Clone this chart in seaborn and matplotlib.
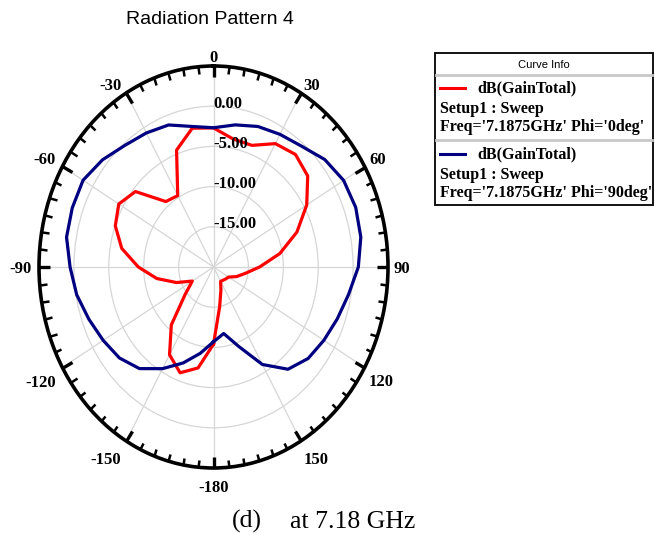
import numpy as np
import pandas as pd
import matplotlib
matplotlib.use("Agg")
import matplotlib.pyplot as plt
import seaborn as sns
from matplotlib.patches import Rectangle
from matplotlib.lines import Line2D

# ---- data: gain pattern (dB) vs. theta (deg) ----
theta_deg = [-180, -170, -160, -150, -140, -130, -120, -110, -100, -90,
             -80, -70, -60, -50, -40, -30, -20, -10, 0, 10,
             20, 30, 40, 50, 60, 70, 80, 90, 100, 110,
             120, 130, 140, 150, 160, 170, 180]

gain_phi0 = [-10.4, -7.25, -6.0, -7.4, -10.6, -14.7, -16.5, -14.35, -11.75, -9.23,
             -6.65, -5.03, -4.33, -5.4, -9.37, -9.75, -4.53, -2.47, -2.7, -3.83,
             -3.9, -2.28, -1.73, -2.38, -4.58, -7.28, -10.35, -13.4, -15.4, -16.5,
             -17.5, -17.7, -17.85, -17.95, -16.9, -14.95, -10.4]

gain_phi90 = [-10.7, -9.1, -7.3, -5.4, -3.5, -2.4, -1.75, -1.0, -0.1, 0.55,
              1.38, 1.53, 1.58, 0.75, -0.25, -0.75, -1.2, -2.25, -2.68, -2.05,
              -1.4, -0.95, -0.38, 0.8, 1.53, 1.68, 1.43, 0.75, -0.35, -1.13,
              -1.75, -2.3, -3.4, -6.0, -9.5, -11.6, -10.7]

curve_names = ["Phi=0deg", "Phi=90deg"]
curve_colors = ["#ff0000", "#000080"]
legend_title = "Curve Info"
legend_expr = ["dB(GainTotal)", "dB(GainTotal)"]
legend_setup = ["Setup1 : Sweep", "Setup1 : Sweep"]
legend_freq = ["Freq='7.1875GHz' Phi='0deg'", "Freq='7.1875GHz' Phi='90deg'"]

r_min, r_max = -20, 5
r_ticks = [-15, -10, -5, 0]
r_tick_labels = ["-15.00", "-10.00", "-5.00", "0.00"]
theta_ticks = [0, 30, 60, 90, 120, 150, 180, 210, 240, 270, 300, 330]
theta_tick_labels = ["0", "30", "60", "90", "120", "150", "-180",
                     "-150", "-120", "-90", "-60", "-30"]

title = "Radiation Pattern 4"
caption_left = "(d)"
caption_right = "at 7.18 GHz"

# ---- figure ----
W, H = 655, 533
fig = plt.figure(figsize=(W / 100, H / 100), dpi=100)
fig.patch.set_facecolor("white")

serif_bold = dict(family="Liberation Serif", weight="bold")


def px(x, y):
    """pixel position -> figure fraction"""
    return x / W, 1 - y / H


ax = fig.add_axes([39 / W, 65 / H, 349 / W, 402 / H], projection="polar")
ax.set_aspect("auto")
ax.set_theta_zero_location("N")
ax.set_theta_direction(-1)
ax.set_facecolor("white")

df = pd.concat([
    pd.DataFrame({"theta": np.deg2rad(theta_deg), "gain": gain_phi0, "curve": curve_names[0]}),
    pd.DataFrame({"theta": np.deg2rad(theta_deg), "gain": gain_phi90, "curve": curve_names[1]}),
], ignore_index=True)

sns.lineplot(data=df, x="theta", y="gain", hue="curve",
             palette=dict(zip(curve_names, curve_colors)),
             sort=False, estimator=None, legend=False, linewidth=2.3, ax=ax)
ax.set_xlabel("")
ax.set_ylabel("")

# radial axis: dB rings, labels along the 0 deg spoke
ax.set_ylim(r_min, r_max)
ax.set_yticks(r_ticks)
ax.set_yticklabels([])
for r, lab in zip(r_ticks, r_tick_labels):
    ax.text(0, r + 0.3, lab, ha="left", va="center", fontsize=12,
            zorder=5, **serif_bold)

# angular axis: major ticks every 30 deg, minor every 5 deg, on the rim, pointing inward
ax.set_xticks(np.deg2rad(theta_ticks))
ax.set_xticklabels([])
ax.set_xticks(np.deg2rad(np.arange(0, 360, 5)), minor=True)
ax.tick_params(axis="x", which="both", bottom=False, top=True)
ax.tick_params(axis="x", which="major", direction="in", length=8, width=2.4,
               color="black")
ax.tick_params(axis="x", which="minor", direction="in", length=5, width=1.8,
               color="black")
ax.grid(True, which="major", color="#d6d6d6", linewidth=0.9)
ax.xaxis.grid(False, which="minor")
ax.spines["polar"].set_linewidth(2.6)
ax.spines["polar"].set_color("black")

# angle labels sit just outside the rim
for ang, lab in zip(theta_ticks, theta_tick_labels):
    a = np.deg2rad(ang)
    s, c = np.sin(a), np.cos(a)
    if abs(s) < 1e-6:
        ha = "center"
        dx = 0.0
    elif s > 0:
        ha = "left"
        dx = 1 + 4 * s
    else:
        ha = "right"
        dx = -(3 + 4 * abs(s))
    if abs(c) < 1e-6:
        va, dy = "center", -2
    elif c > 0:
        va, dy = "baseline", 1 + 2.5 * c
    else:
        va, dy = "top", -(1.5 + 11 * abs(c))
    ax.annotate(lab, xy=(a, r_max), xytext=(dx, dy), textcoords="offset pixels",
                ha=ha, va=va, fontsize=12, annotation_clip=False, **serif_bold)

# ---- title & caption ----
fig.text(*px(210, 20), title, ha="center", va="center", fontsize=14,
         family="Liberation Sans")
fig.text(*px(232, 528), caption_left, ha="left", va="baseline", fontsize=18.5,
         family="Liberation Serif")
fig.text(*px(290, 528), caption_right, ha="left", va="baseline", fontsize=18.5,
         family="Liberation Serif")

# ---- curve info box ----
bx0, by0, bx1, by1 = 435, 53, 653, 205
fig.add_artist(Rectangle(px(bx0, by1), (bx1 - bx0) / W, (by1 - by0) / H,
                         transform=fig.transFigure, facecolor="white",
                         edgecolor="black", linewidth=1.3))
fig.text(*px((bx0 + bx1) / 2, 65), legend_title, ha="center", va="center",
         fontsize=8, family="Liberation Sans")
for ysep in (75, 140):
    xa, ya = px(bx0 + 1, ysep)
    xb, _ = px(bx1 - 1, ysep)
    fig.add_artist(Line2D([xa, xb], [ya, ya], transform=fig.transFigure,
                          color="#c8c8c8", linewidth=2))

entry_top = [88, 154]
for i in range(2):
    y0 = entry_top[i]
    xa, ya = px(440, y0)
    xb, _ = px(465, y0)
    fig.add_artist(Line2D([xa, xb], [ya, ya], transform=fig.transFigure,
                          color=curve_colors[i], linewidth=2.2))
    fig.text(*px(477, y0), legend_expr[i], ha="left", va="center",
             fontsize=11.5, **serif_bold)
    fig.text(*px(440, y0 + 21), legend_setup[i], ha="left", va="center",
             fontsize=11.5, **serif_bold)
    fig.text(*px(440, y0 + 39), legend_freq[i], ha="left", va="center",
             fontsize=11.5, **serif_bold)

fig.savefig("out.png", dpi=100, facecolor="white")
